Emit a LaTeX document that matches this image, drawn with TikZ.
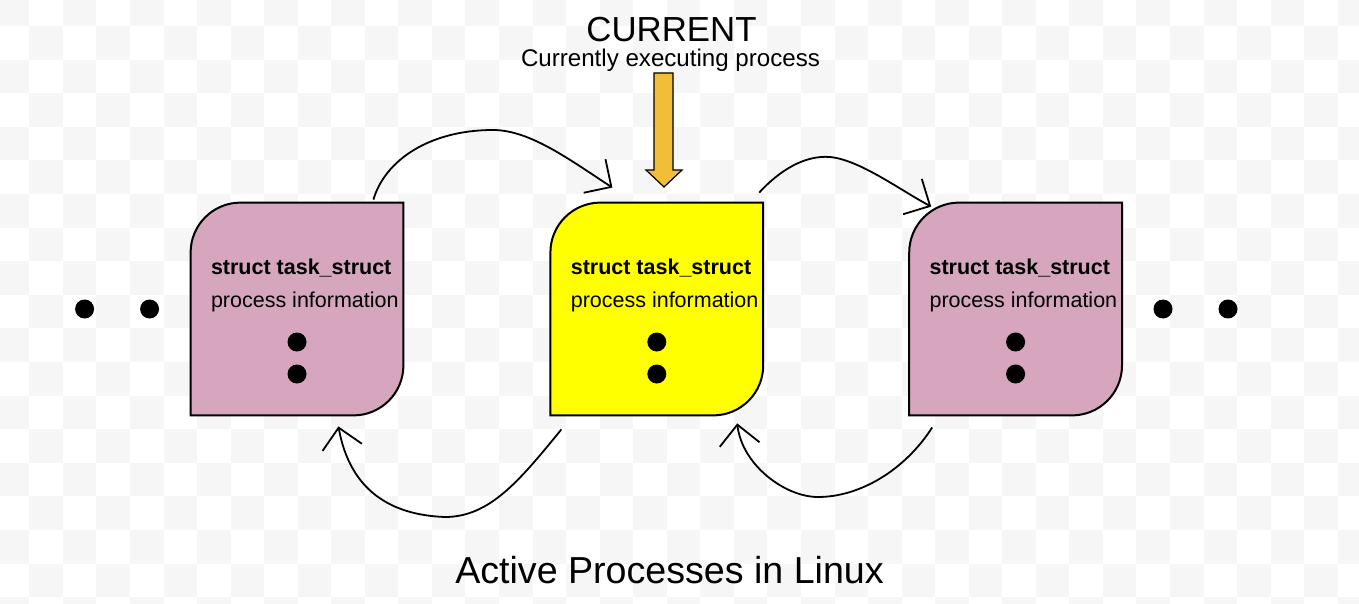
\documentclass[tikz,border=0pt]{standalone}
\usepackage{fontspec}
\setmainfont{Liberation Sans}
\usetikzlibrary{arrows.meta,positioning}
\definecolor{taskpink}{RGB}{213,166,189}
\definecolor{taskyellow}{RGB}{255,255,0}
\definecolor{curorange}{RGB}{240,190,55}
\definecolor{checkgray}{RGB}{246,246,246}
\begin{document}
\begin{tikzpicture}[x=0.5pt, y=-0.5pt,
    taskbox/.style={minimum width=106pt, minimum height=106pt, inner sep=0pt},
    boxline/.style={draw=black, line width=1pt},
    dot/.style={circle, fill=black, inner sep=0pt, minimum size=9.5pt},
    boxtext/.style={anchor=base west, inner sep=0pt, font=\fontsize{10.75}{13}\selectfont},
    headtext/.style={anchor=base, inner sep=0pt},
    link/.style={line width=0.9pt, -{Straight Barb[length=10pt, width=20pt]}}]
    \useasboundingbox (0,0) rectangle (1359,604);
    \begin{scope}
        \clip (0,0) rectangle (1359,604);
        \fill[white] (0,0) rectangle (1359,604);
        \foreach \i in {0,...,40}{
            \foreach \j in {0,...,18}{
                \pgfmathtruncatemacro\chk{mod(\i+\j,2)}
                \ifnum\chk=0
                    \fill[checkgray] (-4.25+33.55*\i, -7.6+33.6*\j) rectangle ++(33.55,33.6);
                \fi
            }
        }
    \end{scope}
    \node[taskbox] (prev) at (297,309) {};
    \node[taskbox, right=73.5pt of prev] (now) {};
    \node[taskbox, right=73pt of now] (next) {};
    \foreach \b/\c in {prev/taskpink, now/taskyellow, next/taskpink}{
        \draw[boxline, fill=\c] (\b.south west) -- ([yshift=-25pt]\b.north west)
            arc[start angle=180, end angle=90, radius=25pt] -- (\b.north east)
            -- ([yshift=25pt]\b.south east) arc[start angle=0, end angle=-90, radius=25pt] -- cycle;
        \node[boxtext, font=\bfseries\fontsize{10.75}{13}\selectfont] (\b-name) at ([xshift=10pt, yshift=-36pt]\b.north west) {struct task\_struct};
        \node[boxtext] (\b-info) at ([xshift=10pt, yshift=-52.5pt]\b.north west) {process information};
        \node[dot] (\b-d1) at ([yshift=-16.5pt]\b.center) {};
        \node[dot] (\b-d2) at ([yshift=-32.5pt]\b.center) {};
    }
    \node[dot] (left1) at ([xshift=-53pt]prev.west) {};
    \node[dot] (left2) at ([xshift=-20.5pt]prev.west) {};
    \node[dot] (right1) at ([xshift=20.5pt]next.east) {};
    \node[dot] (right2) at ([xshift=53pt]next.east) {};
    \node[headtext, font=\fontsize{17.4}{20}\selectfont] (current) at (671.5,42) {CURRENT};
    \node[headtext, font=\fontsize{12.06}{14}\selectfont] (currentsub) at (670.5,67) {Currently executing process};
    \node[headtext, font=\fontsize{18.8}{22}\selectfont] (caption) at (669.5,583) {Active Processes in Linux};
    \draw[fill=curorange, line width=0.6pt] (654,73) -- (673,73) -- (673,170) -- (682,170) -- (664,187) -- (646,170) -- (654,170) -- cycle;
    \draw[link] ([xshift=-15pt, yshift=1.5pt]prev.north east) .. controls (385,160) and (430,130) .. (493,130)
        .. controls (530,130) and (570,160) .. ([xshift=31pt, yshift=7.5pt]now.north west);
    \draw[link] ([xshift=-2pt, yshift=5pt]now.north east) .. controls (780,170) and (805,155) .. (830,157)
        .. controls (860,160) and (900,190) .. ([xshift=11pt, yshift=-2pt]next.north west);
    \draw[link] ([xshift=5.5pt, yshift=-7pt]now.south west) .. controls (520,480) and (490,517) .. (445,517)
        .. controls (390,515) and (350,490) .. ([xshift=-32.5pt, yshift=-5.5pt]prev.south east);
    \draw[link] ([xshift=11.5pt, yshift=-6pt]next.south west) .. controls (905,470) and (860,497) .. (818,497)
        .. controls (785,497) and (742,465) .. ([xshift=-13pt, yshift=-4pt]now.south east);
\end{tikzpicture}
\end{document}
